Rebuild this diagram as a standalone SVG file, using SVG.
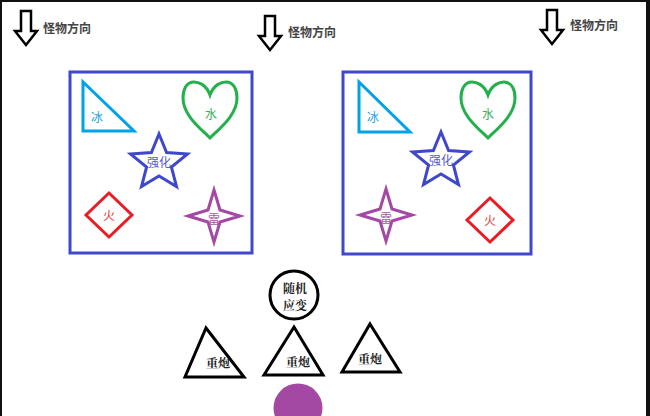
<svg xmlns="http://www.w3.org/2000/svg" xmlns:xlink="http://www.w3.org/1999/xlink" width="650" height="416" viewBox="0 0 650 416">
<style>
.dir{font-family:"Noto Sans CJK SC","Noto Sans CJK JP",sans-serif;font-size:12px;font-weight:bold;fill:#444}
.arrow{fill:#fff;stroke:#000;stroke-width:2.5;stroke-linejoin:miter}
.box{fill:none;stroke:#3f48cc;stroke-width:3}
.lbl{font-family:"Noto Sans CJK SC","Noto Sans CJK JP",sans-serif;font-size:12px;text-anchor:middle;dominant-baseline:central}
.ser{font-family:"Noto Serif CJK SC","Noto Sans CJK SC",serif;font-size:12px;font-weight:bold;fill:#222;text-anchor:middle;dominant-baseline:central}
.blk{fill:#fff;stroke:#000;stroke-width:3;stroke-linejoin:miter}
</style>
<defs>
<path id="arr" d="M-5,0 H5 V20 H11 L0,34 L-11,20 H-5 Z"/>
<path id="heart" d="M0,12 C-4,1 -12,-1 -16,-1 C-24,-1 -27,7 -27,15 C-27,32 -10,45 0,55 C10,45 27,32 27,15 C27,7 24,-1 16,-1 C12,-1 4,1 0,12 Z"/>
<path id="star5" d="M0,-29 L7.6,-10.5 L28.5,-9 L12.4,4 L17.5,23.5 L0,13 L-17.5,23.5 L-12.4,4 L-28.5,-9 L-7.6,-10.5 Z"/>
<path id="star4" d="M0,-26 L6,-6 L26,0 L6,6 L0,26 L-6,6 L-26,0 L-6,-6 Z"/>
<path id="dia" d="M0,-22 L23,0 L0,22 L-23,0 Z"/>
</defs>
<rect x="0" y="0" width="650" height="416" fill="#fff"/>
<g id="frame" fill="#111">
<rect x="0" y="0" width="650" height="2"/>
<rect x="0" y="0" width="2" height="416"/>
<rect x="646" y="0" width="4" height="416"/>
</g>
<g id="dir-left"><use xlink:href="#arr" class="arrow" transform="translate(26,11)"/><text class="dir" x="43" y="33">怪物方向</text></g>
<g id="dir-mid"><use xlink:href="#arr" class="arrow" transform="translate(270,16)"/><text class="dir" x="288" y="37">怪物方向</text></g>
<g id="dir-right"><use xlink:href="#arr" class="arrow" transform="translate(552,10)"/><text class="dir" x="570" y="30">怪物方向</text></g>

<g id="box-left">
<rect class="box" x="70" y="72" width="182" height="181"/>
<g id="l-ice"><path d="M83,82 L83,131 L134,131 Z" fill="none" stroke="#00a2e8" stroke-width="3"/><text class="lbl" x="97" y="116" fill="#1aa3e0">冰</text></g>
<g id="l-water"><use xlink:href="#heart" fill="none" stroke="#22b14c" stroke-width="3" transform="translate(210,83)"/><text class="lbl" x="211" y="113" fill="#3aae5a">水</text></g>
<g id="l-buff"><use xlink:href="#star5" fill="none" stroke="#3f48cc" stroke-width="3" transform="translate(159,163)"/><text class="lbl" x="159" y="161" fill="#5558cc">强化</text></g>
<g id="l-fire"><use xlink:href="#dia" fill="none" stroke="#ed1c24" stroke-width="3" transform="translate(109,215)"/><text class="lbl" x="109" y="214" fill="#e83a3a">火</text></g>
<g id="l-thunder"><use xlink:href="#star4" fill="none" stroke="#a349a4" stroke-width="3" transform="translate(214,216)"/><text class="lbl" x="214" y="218" fill="#a35aa4">雷</text></g>
</g>

<g id="box-right">
<rect class="box" x="343" y="72" width="188" height="182"/>
<g id="r-ice"><path d="M359,82 L359,132 L410,132 Z" fill="none" stroke="#00a2e8" stroke-width="3"/><text class="lbl" x="373" y="116" fill="#1aa3e0">冰</text></g>
<g id="r-water"><use xlink:href="#heart" fill="none" stroke="#22b14c" stroke-width="3" transform="translate(488,83)"/><text class="lbl" x="488" y="113" fill="#3aae5a">水</text></g>
<g id="r-buff"><use xlink:href="#star5" fill="none" stroke="#3f48cc" stroke-width="3" transform="translate(441,161)"/><text class="lbl" x="441" y="159" fill="#5558cc">强化</text></g>
<g id="r-thunder"><use xlink:href="#star4" fill="none" stroke="#a349a4" stroke-width="3" transform="translate(386,215)"/><text class="lbl" x="386" y="217" fill="#a35aa4">雷</text></g>
<g id="r-fire"><use xlink:href="#dia" fill="none" stroke="#ed1c24" stroke-width="3" transform="translate(490,220)"/><text class="lbl" x="490" y="219" fill="#e83a3a">火</text></g>
</g>

<g id="adapt"><circle cx="294" cy="295" r="24" class="blk"/><text class="ser" x="295" y="287">随机</text><text class="ser" x="295" y="304">应变</text></g>
<g id="cannon-1"><path class="blk" d="M206,328 L244,377 L185,377 Z"/><text class="ser" x="218" y="362">重炮</text></g>
<g id="cannon-2"><path class="blk" d="M294,327 L323,375 L264,375 Z"/><text class="ser" x="298" y="361">重炮</text></g>
<g id="cannon-3"><path class="blk" d="M370,324 L400,372 L342,372 Z"/><text class="ser" x="370" y="358">重炮</text></g>
<g id="player"><circle cx="298" cy="408" r="24.5" fill="#a349a4"/></g>
</svg>
